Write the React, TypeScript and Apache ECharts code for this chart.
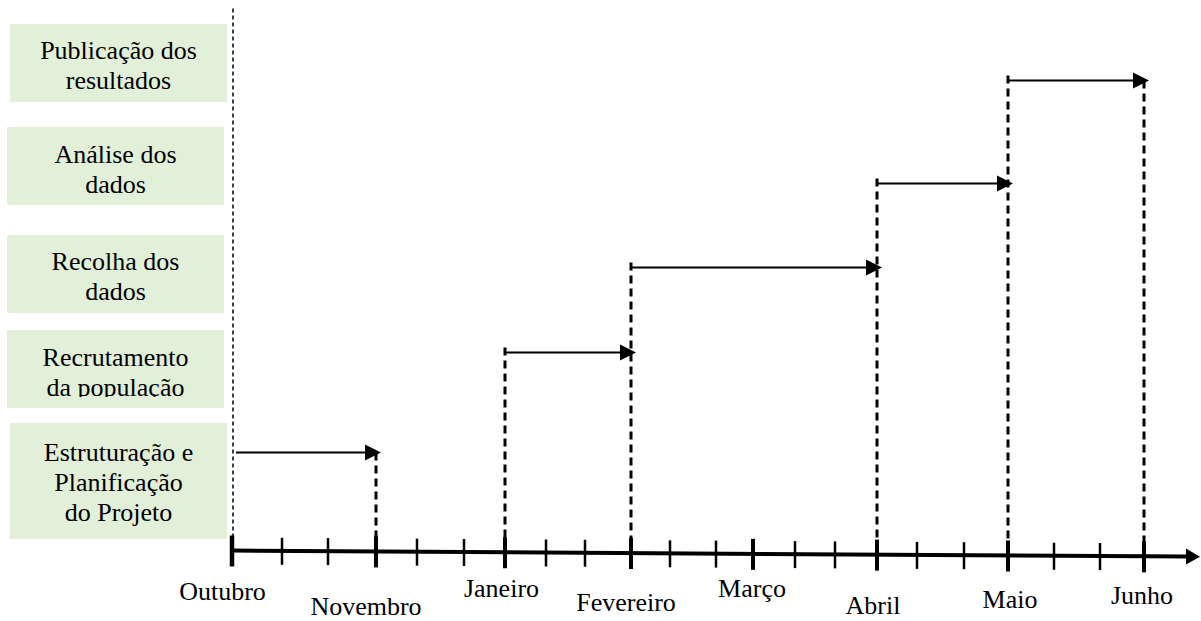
import React, { useEffect, useRef } from 'react';
import * as echarts from 'echarts';

// ---------------- data ----------------
const months = ['Outubro', 'Novembro', 'Janeiro', 'Fevereiro', 'Março', 'Abril', 'Maio', 'Junho'];
// position of each month mark along the timeline (timeline units, Outubro = 0)
const monthPos = [0, 144, 273, 399, 521, 645, 776, 912];
// intermediate (minor) marks along the timeline
const minorPos = [50, 96, 185, 232, 314, 353, 438, 484, 563, 603, 685, 732, 822, 868];
// project phases
const tasks = [
  'Estruturação e\nPlanificação\ndo Projeto',
  'Recrutamento\nda população',
  'Recolha dos\ndados',
  'Análise dos\ndados',
  'Publicação dos\nresultados',
];
const taskStart = [0, 2, 3, 5, 6]; // month index
const taskEnd = [1, 3, 5, 6, 7]; // month index
const taskLevel = [98, 198, 283, 367, 470]; // height of each phase arrow above the timeline

// ---------------- layout / style ----------------
const FONT_FAMILY = 'Liberation Serif';
const FS = 26;
const LINE_H = 30;
const BOX_COLOR = '#e2efd9';
const AXIS_END = 968;
const Y_MAX = 550.5;
const TILT = 6.2 / 968;
const ORIGIN_TOP = 542;
const LABEL_OFFSET = [
  [-9.5, 40.5], [-10, 55.5], [-3.5, 36.7], [-5, 49.8],
  [-1, 35], [-4, 51], [2, 44.3], [-2, 39.4],
];
// [x, y, w, h, textDy, clipY]
const BOX_LAYOUT = [
  [10, 423, 217, 116, 1, 0],
  [7, 330, 217, 78, 3, 397],
  [7, 235, 217, 78, 2, 0],
  [7, 127, 217, 78, 3, 0],
  [10, 24, 217, 78, 2, 0],
];

const axisY = (x: number) => -x * TILT;

export default function App() {
  const ref = useRef<HTMLDivElement>(null);

  useEffect(() => {
    if (!ref.current) return;
    const chart = echarts.init(ref.current, undefined, { renderer: 'svg' });

    // top of the guide line at each month (highest phase touching that month)
    const guideTop: number[] = months.map(() => -1);
    tasks.forEach((_, i) => {
      const s = taskStart[i];
      const e = taskEnd[i];
      if (s > 0) guideTop[s] = Math.max(guideTop[s], taskLevel[i] + 5);
      guideTop[e] = Math.max(guideTop[e], taskLevel[i]);
    });
    const guideData = months
      .map((_, m) => [monthPos[m], guideTop[m], m])
      .filter((d) => d[1] > 0);

    // one entry per text line of each phase box: [taskIndex, lineIndex]
    const boxLines: number[][] = [];
    tasks.forEach((t, i) => t.split('\n').forEach((_, j) => boxLines.push([i, j])));

    const option: any = {
      animation: false,
      backgroundColor: '#ffffff',
      grid: { left: 232, right: 1, top: 0, bottom: 621 - Y_MAX },
      xAxis: { type: 'value', min: 0, max: AXIS_END, show: false },
      yAxis: { type: 'value', min: 0, max: Y_MAX, show: false },
      series: [
        {
          // phase name boxes on the left
          type: 'custom',
          name: 'boxes',
          clip: false,
          silent: true,
          z: 1,
          data: tasks.map((_, i) => [i]),
          renderItem: (params: any, api: any) => {
            const i = api.value(0);
            const [x, y, w, h] = BOX_LAYOUT[i];
            return {
              type: 'rect',
              shape: { x, y, width: w, height: h },
              style: { fill: BOX_COLOR },
            };
          },
        },
        {
          // phase names
          type: 'custom',
          name: 'boxText',
          clip: false,
          silent: true,
          z: 2,
          data: boxLines,
          renderItem: (params: any, api: any) => {
            const i = api.value(0);
            const j = api.value(1);
            const [x, y, w, h, dy] = BOX_LAYOUT[i];
            const lines = tasks[i].split('\n');
            return {
              type: 'text',
              x: x + w / 2,
              y: y + h / 2 + dy + (j - (lines.length - 1) / 2) * LINE_H,
              style: {
                text: lines[j],
                fill: '#000',
                fontSize: FS,
                fontFamily: FONT_FAMILY,
                align: 'center',
                verticalAlign: 'middle',
              },
            };
          },
        },
        {
          // text box clipping (cut-off descenders)
          type: 'custom',
          name: 'boxClip',
          clip: false,
          silent: true,
          z: 3,
          data: tasks.map((_, i) => [i]).filter((d) => BOX_LAYOUT[d[0]][5] > 0),
          renderItem: (params: any, api: any) => {
            const i = api.value(0);
            const [x, y, w, h, , clipY] = BOX_LAYOUT[i];
            return {
              type: 'rect',
              shape: { x, y: clipY, width: w, height: y + h - clipY },
              style: { fill: BOX_COLOR },
            };
          },
        },
        {
          // timeline axis with arrow and origin line
          type: 'custom',
          name: 'axis',
          clip: false,
          silent: true,
          data: [[0]],
          renderItem: (params: any, api: any) => {
            const a = api.coord([0, axisY(0)]);
            const b = api.coord([AXIS_END - 14, axisY(AXIS_END - 14)]);
            const tip = api.coord([AXIS_END, axisY(AXIS_END)]);
            const o1 = api.coord([0, ORIGIN_TOP]);
            return {
              type: 'group',
              children: [
                {
                  type: 'line',
                  shape: { x1: o1[0] + 1, y1: o1[1], x2: a[0] + 1, y2: a[1] },
                  style: { stroke: '#000', lineWidth: 1.5, lineDash: [4, 3] },
                },
                {
                  type: 'line',
                  shape: { x1: a[0], y1: a[1], x2: b[0] + 2, y2: b[1] },
                  style: { stroke: '#000', lineWidth: 4 },
                },
                {
                  type: 'polygon',
                  shape: { points: [[b[0], b[1] - 8], tip, [b[0], b[1] + 8]] },
                  style: { fill: '#000' },
                },
              ],
            };
          },
        },
        {
          // tick marks
          type: 'custom',
          name: 'ticks',
          clip: false,
          silent: true,
          data: [...monthPos.map((v) => [v, 1]), ...minorPos.map((v) => [v, 0])],
          renderItem: (params: any, api: any) => {
            const x = api.value(0);
            const major = api.value(1) === 1;
            const p = api.coord([x, axisY(x)]);
            const up = major ? 15 : 13;
            const down = major ? 16 : 14;
            return {
              type: 'line',
              shape: { x1: p[0], y1: p[1] - up, x2: p[0], y2: p[1] + down },
              style: { stroke: '#000', lineWidth: major ? (x === 0 ? 4.5 : 4) : 2.5 },
            };
          },
        },
        {
          // month labels
          type: 'custom',
          name: 'labels',
          clip: false,
          silent: true,
          data: monthPos.map((v, i) => [v, i]),
          renderItem: (params: any, api: any) => {
            const x = api.value(0);
            const i = api.value(1);
            const p = api.coord([x, axisY(x)]);
            const [dx, dy] = LABEL_OFFSET[i];
            return {
              type: 'text',
              x: p[0] + dx,
              y: p[1] + dy,
              style: {
                text: months[i],
                fill: '#000',
                fontSize: FS,
                fontFamily: FONT_FAMILY,
                align: 'center',
                verticalAlign: 'middle',
              },
            };
          },
        },
        {
          // dashed guide lines from phases down to the timeline
          type: 'custom',
          name: 'guides',
          clip: false,
          silent: true,
          data: guideData,
          renderItem: (params: any, api: any) => {
            const x = api.value(0);
            const top = api.coord([x, api.value(1)]);
            const bot = api.coord([x, axisY(x)]);
            return {
              type: 'line',
              shape: { x1: top[0], y1: top[1], x2: bot[0], y2: bot[1] },
              style: { stroke: '#000', lineWidth: 3, lineDash: [8, 5] },
            };
          },
        },
        {
          // phase arrows
          type: 'custom',
          name: 'phases',
          clip: false,
          silent: true,
          data: tasks.map((_, i) => [monthPos[taskStart[i]], monthPos[taskEnd[i]], taskLevel[i], taskStart[i]]),
          renderItem: (params: any, api: any) => {
            const x0 = api.value(0);
            const x1 = api.value(1);
            const lvl = api.value(2);
            const s = api.coord([x0, lvl]);
            const e = api.coord([x1, lvl]);
            const tipX = e[0] + 5;
            const baseX = tipX - 16;
            const startX = api.value(3) === 0 ? s[0] + 4 : s[0];
            return {
              type: 'group',
              children: [
                {
                  type: 'line',
                  shape: { x1: startX, y1: s[1], x2: baseX + 2, y2: e[1] },
                  style: { stroke: '#000', lineWidth: 2.2 },
                },
                {
                  type: 'polygon',
                  shape: { points: [[baseX, e[1] - 8], [tipX, e[1]], [baseX, e[1] + 8]] },
                  style: { fill: '#000' },
                },
              ],
            };
          },
        },
      ],
    };

    chart.setOption(option);
    return () => chart.dispose();
  }, []);

  return (
    <div
      ref={ref}
      style={{ position: 'fixed', left: 0, top: 0, width: 1201, height: 621, background: '#fff' }}
    />
  );
}
